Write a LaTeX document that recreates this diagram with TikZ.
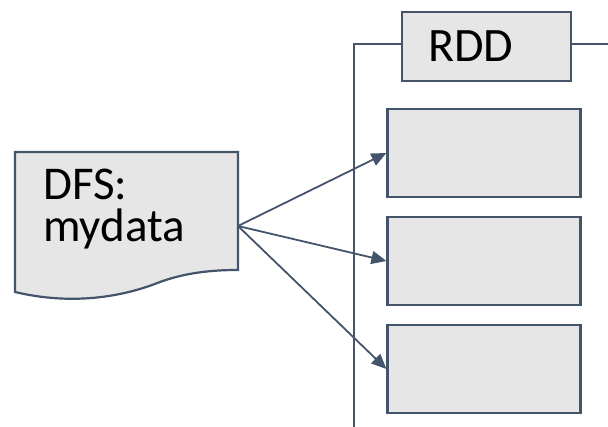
\documentclass[tikz,border=0pt]{standalone}
\usepackage{fontspec}
\setmainfont{Carlito}
\usetikzlibrary{arrows.meta}

\definecolor{linecol}{HTML}{44546A}
\definecolor{boxfill}{HTML}{E6E6E6}

\begin{document}
\begin{tikzpicture}[x=1pt,y=-1pt,
  box/.style={draw=linecol,fill=boxfill,line width=2.2pt,inner sep=0pt},
  part/.style={box,minimum width=193pt,minimum height=88pt},
  link/.style={draw=linecol,line width=1.8pt},
  arr/.style={link,-{Triangle[length=15pt,width=13pt]}}]
  \useasboundingbox (0,0) rectangle (608,427);

  % the input file
  \draw[box] (15,152) -- (238,152) -- (238,270)
    .. controls (220,270) and (190,271) .. (160,282)
    .. controls (120,298) and (70,305) .. (15,292) -- cycle;
  \coordinate (dfs) at (238,226);
  \node[anchor=north west,inner sep=0pt,align=left,
    font=\fontsize{47}{42}\selectfont] (dfstext) at (43,169) {DFS:\\mydata};

  % the partitions
  \node[part] (p1) at (484,153) {};
  \node[part] (p2) at (484,261) {};
  \node[part] (p3) at (484,369) {};

  % the rdd bracket
  \node[box,minimum width=169pt,minimum height=69pt,inner xsep=26pt,
    text width=117pt,align=left,font=\fontsize{48}{48}\selectfont]
    (rdd) at (486.5,46.5) {RDD};
  \coordinate (corner) at (354,44);
  \coordinate (bottom) at (354,427);
  \coordinate (rightend) at (608,44);
  \draw[link] (rdd.west |- corner) -- (corner) -- (bottom);
  \draw[link] (rdd.east |- rightend) -- (rightend);

  \draw[arr] (dfs) -- (p1.west);
  \draw[arr] (dfs) -- (p2.west);
  \draw[arr] (dfs) -- (p3.west);
\end{tikzpicture}
\end{document}
